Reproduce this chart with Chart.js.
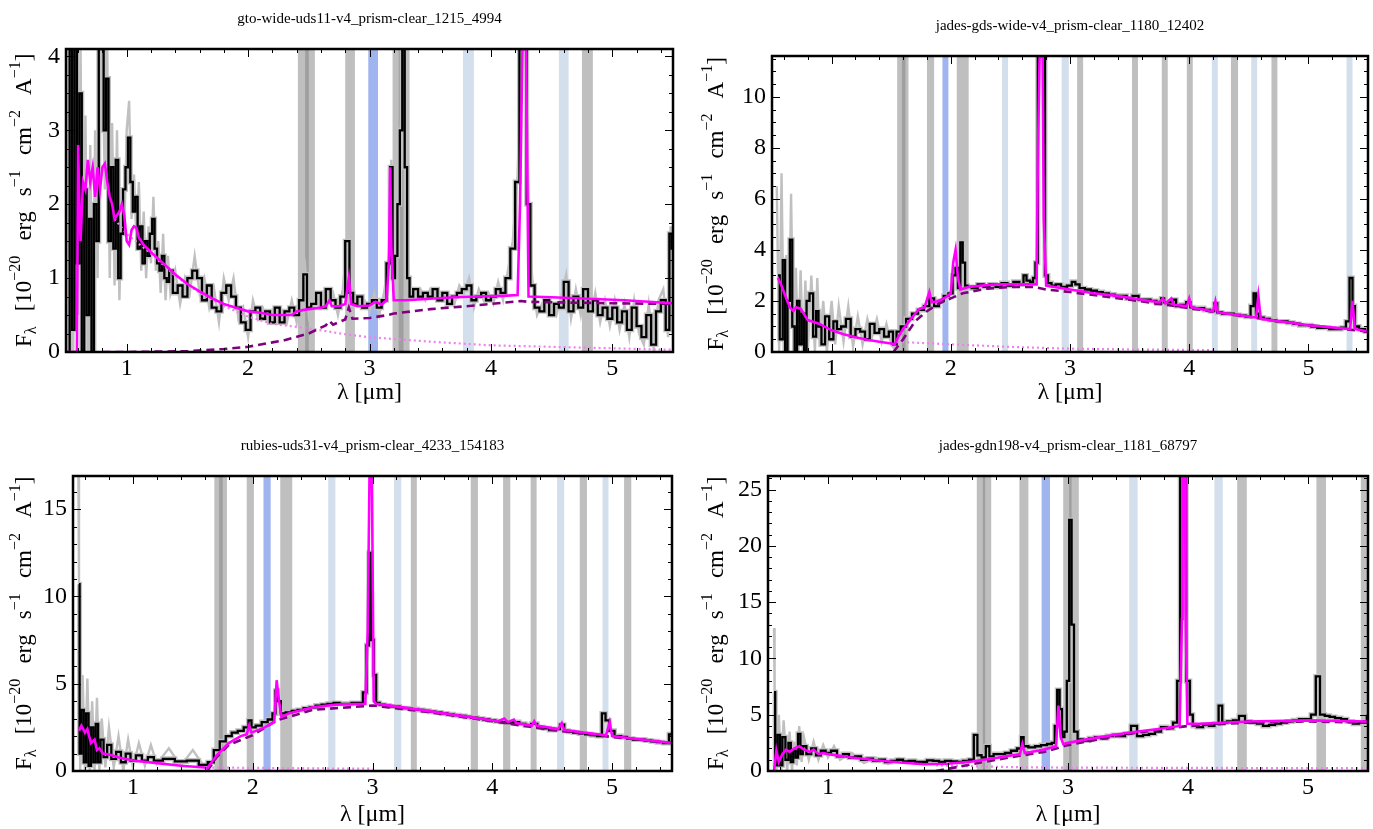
<!DOCTYPE html>
<html>
<head>
<meta charset="utf-8">
<script src="https://cdn.jsdelivr.net/npm/chart.js@4.4.1/dist/chart.umd.min.js"></script>
<style>
  body { margin: 0; background: #fff; }
  #wrap { position: relative; width: 1373px; height: 829px; }
  canvas { position: absolute; }
</style>
</head>
<body>
<div id="wrap">
  <canvas id="c1" width="686" height="414" style="left:0px;top:0px"></canvas>
  <canvas id="c2" width="687" height="414" style="left:686px;top:0px"></canvas>
  <canvas id="c3" width="686" height="415" style="left:0px;top:414px"></canvas>
  <canvas id="c4" width="687" height="415" style="left:686px;top:414px"></canvas>
</div>
<script>
// shared axis values
const xTicks = [1, 2, 3, 4, 5];
const xRange = [0.5, 5.5];

// ---------- panel 1: gto-wide-uds11 ----------
const p1Title = "gto-wide-uds11-v4_prism-clear_1215_4994";
const p1YTicks = [0, 1, 2, 3, 4];
const p1YMax = 4.1;
const p1Bands = [[2.41, 2.50, "g"], [2.47, 2.55, "g"], [2.80, 2.88, "g"], [2.99, 3.07, "b"], [3.19, 3.28, "g"], [3.24, 3.33, "g"], [3.77, 3.86, "l"], [4.56, 4.64, "l"], [4.75, 4.84, "g"]];
const p1Black = [[0.52,0],[0.54,4.1],[0.56,0.3],[0.58,4.1],[0.60,1.2],[0.62,3.5],[0.64,0],[0.66,2.2],[0.68,0.5],[0.70,1.8],[0.72,0],[0.74,2.0],[0.76,1.5],[0.78,4.1],[0.80,4.1],[0.82,3.0],[0.84,3.7],[0.86,1.5],[0.88,2.5],[0.90,1.4],[0.92,2.6],[0.94,1.0],[0.96,1.6],[0.98,2.2],[1.00,2.5],[1.02,2.9],[1.04,2.3],[1.06,1.9],[1.08,2.1],[1.10,1.4],[1.12,1.7],[1.14,1.2],[1.16,1.5],[1.18,1.3],[1.20,1.6],[1.22,1.8],[1.24,1.4],[1.26,1.2],[1.28,1.1],[1.30,1.3],[1.32,1.0],[1.34,0.95],[1.36,1.1],[1.40,0.8],[1.44,0.9],[1.48,0.75],[1.52,1.0],[1.56,1.1],[1.60,1.0],[1.64,0.7],[1.68,0.9],[1.72,0.6],[1.76,0.55],[1.80,0.8],[1.84,0.9],[1.88,0.75],[1.92,0.6],[1.96,0.4],[2.00,0.3],[2.04,0.55],[2.08,0.6],[2.12,0.45],[2.16,0.55],[2.20,0.4],[2.24,0.6],[2.28,0.4],[2.32,0.55],[2.36,0.6],[2.40,0.5],[2.44,0.7],[2.47,1.05],[2.50,0.6],[2.54,0.65],[2.58,0.8],[2.62,0.6],[2.66,0.85],[2.70,0.7],[2.74,0.6],[2.78,0.75],[2.82,1.5],[2.85,0.8],[2.88,0.65],[2.92,0.75],[2.96,0.6],[3.00,0.65],[3.04,0.7],[3.08,0.6],[3.12,0.7],[3.16,1.2],[3.18,2.5],[3.20,1.0],[3.22,1.3],[3.24,2.0],[3.26,3.0],[3.28,4.1],[3.30,2.5],[3.32,1.0],[3.34,0.75],[3.38,0.85],[3.42,0.75],[3.46,0.8],[3.50,0.75],[3.54,0.85],[3.58,0.7],[3.62,0.8],[3.66,0.65],[3.70,0.75],[3.74,0.8],[3.78,0.85],[3.82,0.9],[3.86,0.7],[3.90,0.75],[3.94,0.8],[3.98,0.7],[4.02,0.75],[4.06,0.85],[4.10,0.8],[4.14,1.0],[4.18,1.4],[4.22,2.3],[4.25,4.1],[4.28,4.1],[4.31,2.0],[4.34,0.9],[4.38,0.6],[4.42,0.55],[4.46,0.7],[4.50,0.5],[4.54,0.65],[4.58,0.6],[4.62,0.95],[4.66,0.55],[4.70,0.75],[4.74,0.6],[4.78,0.85],[4.82,0.55],[4.86,0.7],[4.90,0.5],[4.94,0.6],[4.98,0.45],[5.02,0.6],[5.06,0.4],[5.10,0.55],[5.14,0.3],[5.18,0.6],[5.22,0.35],[5.26,0.2],[5.30,0.5],[5.34,0.1],[5.38,0.55],[5.42,0.7],[5.46,0.3],[5.48,1.6],[5.50,1.4]];
const p1Gray = [[0.52,0],[0.54,4.1],[0.56,0],[0.58,4.1],[0.60,0.5],[0.62,4.1],[0.64,0],[0.66,3.2],[0.68,0],[0.70,2.8],[0.72,0],[0.74,3.0],[0.76,1.0],[0.78,4.1],[0.80,4.1],[0.82,2.2],[0.84,4.1],[0.86,1.0],[0.88,3.1],[0.90,0.9],[0.92,3.0],[0.94,0.7],[0.96,2.0],[0.98,1.6],[1.00,3.0],[1.02,3.4],[1.04,1.8],[1.06,2.4],[1.08,1.5],[1.10,2.3],[1.12,1.1],[1.14,1.9],[1.16,1.0],[1.18,1.7],[1.20,1.2],[1.22,2.1],[1.24,1.1],[1.26,1.5],[1.28,0.8],[1.30,1.6],[1.32,0.7],[1.34,1.3],[1.36,0.8],[1.40,1.1],[1.44,0.65],[1.48,1.0],[1.52,0.8],[1.56,1.3],[1.60,0.8],[1.64,1.0],[1.68,0.6],[1.72,0.85],[1.76,0.4],[1.80,1.0],[1.84,0.7],[1.88,1.0],[1.92,0.45],[1.96,0.6],[2.00,0.2],[2.04,0.7],[2.08,0.45],[2.12,0.6],[2.16,0.4],[2.20,0.55],[2.24,0.45],[2.28,0.55],[2.32,0.4],[2.36,0.7],[2.40,0.4],[2.44,0.85],[2.47,1.15],[2.50,0.5],[2.54,0.8],[2.58,0.65],[2.62,0.75],[2.66,0.7],[2.70,0.8],[2.74,0.5],[2.78,0.85],[2.82,1.6],[2.85,0.7],[2.88,0.75],[2.92,0.65],[2.96,0.7],[3.00,0.55],[3.04,0.8],[3.08,0.5],[3.12,0.8],[3.16,1.3],[3.18,2.6],[3.20,0.9],[3.22,1.4],[3.24,2.1],[3.26,3.1],[3.28,4.1],[3.30,2.6],[3.32,0.9],[3.34,0.85],[3.38,0.75],[3.42,0.85],[3.46,0.7],[3.50,0.85],[3.54,0.75],[3.58,0.8],[3.62,0.7],[3.66,0.75],[3.70,0.65],[3.74,0.9],[3.78,0.8],[3.82,1.0],[3.86,0.6],[3.90,0.85],[3.94,0.7],[3.98,0.8],[4.02,0.65],[4.06,0.95],[4.10,0.7],[4.14,1.1],[4.18,1.5],[4.22,2.4],[4.25,4.1],[4.28,4.1],[4.31,2.1],[4.34,1.0],[4.38,0.5],[4.42,0.65],[4.46,0.6],[4.50,0.65],[4.54,0.5],[4.58,0.75],[4.62,1.05],[4.66,0.45],[4.70,0.85],[4.74,0.5],[4.78,0.95],[4.82,0.45],[4.86,0.8],[4.90,0.4],[4.94,0.7],[4.98,0.35],[5.02,0.7],[5.06,0.3],[5.10,0.65],[5.14,0.2],[5.18,0.7],[5.22,0.25],[5.26,0.1],[5.30,0.65],[5.34,0.05],[5.38,0.7],[5.42,0.85],[5.46,0.2],[5.48,1.7],[5.50,1.5]];
const p1Model = [[0.50,0],[0.59,0],[0.60,2.8],[0.61,2.0],[0.62,1.5],[0.64,2.3],[0.66,2.2],[0.68,2.6],[0.70,2.3],[0.72,2.5],[0.74,2.1],[0.76,2.5],[0.78,2.2],[0.80,2.5],[0.82,2.55],[0.84,2.3],[0.86,2.1],[0.88,2.0],[0.90,1.8],[0.92,1.85],[0.94,1.9],[0.96,2.0],[0.98,1.85],[1.00,1.5],[1.02,1.45],[1.04,1.65],[1.06,1.7],[1.08,1.68],[1.10,1.55],[1.14,1.45],[1.20,1.35],[1.30,1.2],[1.40,1.05],[1.50,0.92],[1.60,0.82],[1.70,0.73],[1.80,0.65],[1.90,0.6],[2.00,0.55],[2.10,0.53],[2.20,0.5],[2.30,0.5],[2.36,0.5],[2.40,0.55],[2.46,0.57],[2.50,0.58],[2.60,0.6],[2.64,0.62],[2.67,0.7],[2.69,0.62],[2.75,0.62],[2.80,0.65],[2.83,1.0],[2.85,0.65],[2.90,0.62],[3.00,0.63],[3.05,0.68],[3.10,0.64],[3.14,0.7],[3.16,1.2],[3.17,2.5],[3.18,1.4],[3.20,0.7],[3.30,0.7],[3.50,0.72],[3.70,0.74],[3.90,0.75],[4.10,0.76],[4.22,0.77],[4.24,2.0],[4.26,4.1],[4.29,4.1],[4.31,0.75],[4.50,0.74],[4.80,0.72],[5.10,0.70],[5.50,0.66]];
const p1Dashed = [[0.80,0],[1.00,0],[1.50,0.01],[1.80,0.04],[2.00,0.07],[2.20,0.13],[2.30,0.16],[2.50,0.25],[2.60,0.33],[2.64,0.36],[2.67,0.42],[2.70,0.37],[2.80,0.44],[2.83,0.6],[2.86,0.45],[3.00,0.46],[3.15,0.5],[3.20,0.52],[3.50,0.58],[3.80,0.62],[4.00,0.65],[4.25,0.69],[4.30,0.68],[4.60,0.67],[5.00,0.66],[5.50,0.65]];
const p1Dotted = [[0.90,1.8],[1.00,1.6],[1.20,1.33],[1.40,1.03],[1.60,0.8],[1.80,0.62],[2.00,0.48],[2.20,0.38],[2.40,0.34],[2.50,0.32],[2.80,0.24],[3.00,0.2],[3.50,0.14],[4.00,0.09],[4.50,0.07],[5.00,0.05],[5.50,0.03]];

// ---------- panel 2: jades-gds-wide ----------
const p2Title = "jades-gds-wide-v4_prism-clear_1180_12402";
const p2YTicks = [0, 2, 4, 6, 8, 10];
const p2YMax = 11.6;
const p2Bands = [[1.55, 1.62, "g"], [1.59, 1.645, "g"], [1.80, 1.86, "g"], [1.93, 1.98, "b"], [2.05, 2.15, "g"], [2.43, 2.48, "l"], [2.93, 2.99, "l"], [3.06, 3.11, "g"], [3.52, 3.57, "g"], [3.77, 3.82, "g"], [3.98, 4.03, "g"], [4.19, 4.24, "l"], [4.35, 4.41, "g"], [4.52, 4.57, "l"], [4.69, 4.74, "g"], [5.32, 5.37, "l"]];
const p2Black = [[0.55,3.0],[0.58,0.5],[0.60,3.6],[0.62,0],[0.64,2.0],[0.66,4.4],[0.68,1.0],[0.70,0],[0.72,2.0],[0.74,0.3],[0.76,1.5],[0.78,0],[0.80,2.0],[0.83,2.3],[0.86,0.6],[0.88,1.6],[0.90,1.0],[0.93,0.3],[0.96,1.4],[1.00,0.5],[1.03,1.2],[1.06,0.9],[1.10,1.0],[1.14,1.3],[1.18,0.6],[1.22,0.9],[1.26,0.8],[1.30,0.5],[1.34,1.1],[1.38,0.75],[1.42,0.9],[1.46,0.6],[1.50,0.8],[1.53,0.3],[1.56,0.8],[1.60,1.0],[1.65,1.3],[1.70,1.5],[1.75,1.65],[1.80,1.8],[1.84,2.1],[1.88,1.8],[1.92,2.0],[1.96,2.2],[2.00,2.3],[2.03,3.0],[2.05,3.3],[2.07,2.5],[2.09,4.3],[2.11,3.5],[2.13,2.6],[2.15,2.55],[2.20,2.5],[2.25,2.65],[2.30,2.55],[2.35,2.65],[2.40,2.55],[2.45,2.7],[2.50,2.6],[2.55,2.75],[2.60,2.65],[2.62,3.0],[2.65,2.8],[2.68,2.75],[2.70,2.9],[2.72,3.5],[2.74,11.6],[2.78,11.6],[2.80,3.0],[2.83,2.7],[2.86,2.6],[2.90,2.65],[2.95,2.55],[3.00,2.6],[3.03,2.75],[3.06,2.65],[3.10,2.5],[3.15,2.45],[3.20,2.4],[3.25,2.35],[3.30,2.3],[3.35,2.25],[3.40,2.2],[3.45,2.2],[3.50,2.1],[3.55,2.2],[3.60,2.05],[3.65,2.05],[3.70,2.0],[3.75,1.9],[3.78,2.1],[3.80,1.95],[3.85,1.95],[3.88,2.05],[3.90,1.8],[3.95,1.85],[4.00,1.95],[4.02,1.75],[4.05,1.7],[4.10,1.72],[4.15,1.65],[4.20,1.6],[4.22,1.9],[4.25,1.55],[4.30,1.5],[4.35,1.5],[4.40,1.45],[4.45,1.42],[4.50,1.38],[4.53,1.8],[4.55,2.3],[4.57,1.5],[4.60,1.35],[4.65,1.3],[4.70,1.25],[4.75,1.2],[4.80,1.2],[4.85,1.15],[4.90,1.1],[4.95,1.05],[5.00,1.05],[5.05,1.0],[5.10,0.95],[5.15,0.95],[5.20,0.9],[5.25,0.9],[5.30,0.95],[5.33,1.2],[5.36,2.9],[5.38,1.8],[5.40,1.0],[5.45,0.9],[5.50,0.8]];
const p2Gray = [[0.54,6.5],[0.56,0],[0.58,7.0],[0.60,0],[0.62,3.8],[0.64,0],[0.66,6.2],[0.68,0],[0.70,3.3],[0.72,0],[0.74,3.2],[0.76,0],[0.78,2.8],[0.80,0],[0.83,3.0],[0.86,0],[0.88,2.9],[0.90,0.2],[0.93,2.0],[0.96,0],[1.00,2.0],[1.03,0.3],[1.06,1.8],[1.10,0.4],[1.14,1.8],[1.18,0.2],[1.22,1.4],[1.26,0.3],[1.30,1.3],[1.34,0.6],[1.38,1.3],[1.42,0.4],[1.46,1.1],[1.50,0.3],[1.53,0.1],[1.56,0.7]];
const p2Model = [[0.55,2.9],[0.58,2.6],[0.62,2.1],[0.65,1.75],[0.68,1.6],[0.70,1.75],[0.74,1.7],[0.80,1.25],[0.90,1.1],[1.00,0.85],[1.10,0.7],[1.20,0.58],[1.30,0.48],[1.40,0.4],[1.50,0.33],[1.53,0.3],[1.56,0.6],[1.60,0.9],[1.65,1.2],[1.70,1.5],[1.74,1.7],[1.78,1.75],[1.82,2.35],[1.84,1.95],[1.90,2.0],[1.96,2.15],[2.00,2.3],[2.02,3.5],[2.04,4.0],[2.06,2.9],[2.08,2.45],[2.15,2.55],[2.25,2.6],[2.40,2.65],[2.60,2.65],[2.72,2.65],[2.73,7.5],[2.745,11.6],[2.77,11.6],[2.78,5.2],[2.80,2.6],[3.00,2.45],[3.20,2.3],[3.40,2.2],[3.60,2.05],[3.75,1.95],[3.78,2.1],[3.80,1.9],[3.85,2.1],[3.87,1.85],[3.98,1.8],[4.00,2.1],[4.02,1.75],[4.20,1.6],[4.22,2.0],[4.24,1.55],[4.40,1.45],[4.56,1.35],[4.58,2.2],[4.60,1.3],[5.00,1.05],[5.35,0.9],[5.37,2.0],[5.39,0.9],[5.50,0.8]];
const p2Dashed = [[1.52,0],[1.60,0.5],[1.70,1.2],[1.80,1.6],[1.90,1.9],[2.00,2.1],[2.10,2.3],[2.30,2.48],[2.50,2.55],[2.70,2.55],[2.80,2.45],[3.00,2.35],[3.50,2.05],[4.00,1.72],[4.50,1.38],[5.00,1.05],[5.50,0.8]];
const p2Dotted = [[1.55,0.4],[2.00,0.3],[2.50,0.2],[3.00,0.13],[3.50,0.1],[4.20,0.07]];

// ---------- panel 3: rubies-uds31 ----------
const p3Title = "rubies-uds31-v4_prism-clear_4233_154183";
const p3YTicks = [0, 5, 10, 15];
const p3YMax = 16.9;
const p3Bands = [[1.68, 1.75, "g"], [1.72, 1.785, "g"], [1.95, 2.01, "g"], [2.09, 2.15, "b"], [2.23, 2.33, "g"], [2.63, 2.69, "l"], [3.18, 3.24, "l"], [3.32, 3.37, "g"], [3.82, 3.88, "g"], [4.09, 4.15, "g"], [4.32, 4.37, "g"], [4.54, 4.60, "l"], [4.73, 4.79, "g"], [4.92, 4.97, "l"], [5.10, 5.16, "g"]];
const p3Black = [[0.55,10.7],[0.56,1.0],[0.58,3.5],[0.60,0.5],[0.62,3.3],[0.64,0.3],[0.66,2.5],[0.68,0.5],[0.70,2.7],[0.72,0.5],[0.74,1.8],[0.77,0.8],[0.80,1.5],[0.84,0.7],[0.88,1.1],[0.92,0.5],[0.96,1.0],[1.00,0.6],[1.05,0.9],[1.10,0.6],[1.15,0.8],[1.20,0.6],[1.30,0.7],[1.40,0.55],[1.50,0.6],[1.60,0.35],[1.65,0.5],[1.70,1.2],[1.75,1.7],[1.80,2.0],[1.85,2.2],[1.90,2.3],[1.95,2.5],[1.98,2.9],[2.00,2.5],[2.05,2.6],[2.10,2.8],[2.15,2.95],[2.18,3.3],[2.20,4.6],[2.22,4.0],[2.25,3.3],[2.30,3.35],[2.35,3.45],[2.40,3.5],[2.45,3.6],[2.50,3.65],[2.55,3.75],[2.60,3.8],[2.65,3.85],[2.70,3.9],[2.75,3.85],[2.80,3.85],[2.85,3.9],[2.90,3.9],[2.94,4.5],[2.96,7.2],[2.98,12.5],[3.00,7.5],[3.02,5.5],[3.04,3.9],[3.08,3.8],[3.12,3.75],[3.16,3.7],[3.20,3.7],[3.25,3.6],[3.30,3.6],[3.35,3.55],[3.40,3.5],[3.45,3.45],[3.50,3.4],[3.55,3.35],[3.60,3.3],[3.65,3.25],[3.70,3.2],[3.75,3.15],[3.80,3.1],[3.85,3.05],[3.90,3.0],[3.95,2.95],[4.00,2.9],[4.05,2.85],[4.10,2.8],[4.15,2.75],[4.20,2.8],[4.25,2.7],[4.30,2.6],[4.35,2.7],[4.40,2.5],[4.45,2.45],[4.50,2.35],[4.55,2.4],[4.58,2.65],[4.62,2.3],[4.65,2.25],[4.70,2.2],[4.75,2.15],[4.80,2.1],[4.85,2.05],[4.90,2.0],[4.93,3.3],[4.96,2.9],[4.99,2.3],[5.05,2.0],[5.10,1.95],[5.15,1.85],[5.20,1.8],[5.25,1.8],[5.30,1.75],[5.35,1.7],[5.40,1.65],[5.45,1.6],[5.50,2.1]];
const p3Gray = [[0.545,16.9],[0.55,11.0],[0.56,0],[0.58,5.5],[0.60,0],[0.62,5.3],[0.64,0],[0.66,4.0],[0.68,0],[0.70,4.2],[0.72,0],[0.74,3.0],[0.77,0.2],[0.80,2.5],[0.84,0.2],[0.88,2.0],[0.92,0],[0.96,1.8],[1.00,0.2],[1.05,1.6],[1.10,0.3],[1.15,1.5],[1.20,0.4],[1.30,1.3],[1.40,0.3],[1.50,1.2],[1.60,0.2],[1.65,0.6]];
const p3Model = [[0.55,2.3],[0.57,2.6],[0.60,2.2],[0.62,2.4],[0.65,1.6],[0.68,1.8],[0.70,1.2],[0.72,1.3],[0.75,1.0],[0.80,0.95],[0.90,0.75],[1.00,0.6],[1.20,0.45],[1.40,0.3],[1.60,0.2],[1.62,0.15],[1.70,0.9],[1.80,1.6],[1.90,2.0],[1.95,2.1],[1.97,2.6],[1.99,2.2],[2.10,2.5],[2.18,2.8],[2.20,5.2],[2.22,4.0],[2.24,3.1],[2.30,3.3],[2.50,3.65],[2.70,3.8],[2.94,3.85],[2.96,8.0],[2.975,16.9],[2.995,16.9],[3.01,4.0],[3.03,3.85],[3.20,3.7],[3.50,3.4],[3.80,3.1],[4.05,2.85],[4.10,3.0],[4.13,2.8],[4.18,2.95],[4.20,2.75],[4.33,2.6],[4.35,2.85],[4.37,2.6],[4.55,2.4],[4.58,2.75],[4.60,2.35],[4.95,2.05],[4.98,2.8],[5.00,2.0],[5.50,1.6]];
const p3Dashed = [[1.62,0],[1.70,0.8],[1.80,1.5],[2.00,2.05],[2.20,2.9],[2.50,3.5],[3.00,3.75],[3.50,3.35],[4.00,2.85],[4.50,2.35],[5.00,1.95],[5.50,1.6]];
const p3Dotted = [[1.62,0.2],[2.00,0.18],[2.50,0.15],[3.00,0.13]];

// ---------- panel 4: jades-gdn198 ----------
const p4Title = "jades-gdn198-v4_prism-clear_1181_68797";
const p4YTicks = [0, 5, 10, 15, 20, 25];
const p4YMax = 26.2;
const p4Bands = [[2.24, 2.31, "g"], [2.29, 2.36, "g"], [2.595, 2.67, "g"], [2.78, 2.85, "b"], [2.96, 3.03, "g"], [3.01, 3.09, "g"], [3.51, 3.58, "l"], [4.22, 4.29, "l"], [4.41, 4.49, "g"], [5.07, 5.15, "g"], [5.44, 5.50, "g"]];
const p4Black = [[0.55,7.0],[0.57,0.5],[0.59,3.2],[0.61,0.5],[0.63,3.0],[0.66,1.0],[0.68,2.5],[0.70,0.8],[0.72,1.8],[0.74,1.2],[0.76,3.3],[0.78,1.5],[0.80,2.2],[0.84,1.5],[0.88,2.0],[0.92,1.4],[0.96,1.8],[1.00,1.6],[1.05,1.8],[1.10,1.3],[1.15,1.5],[1.20,1.2],[1.25,1.3],[1.30,1.0],[1.35,1.1],[1.40,0.9],[1.45,1.0],[1.50,0.8],[1.55,0.9],[1.60,1.0],[1.65,0.85],[1.70,0.9],[1.75,0.8],[1.80,0.8],[1.85,0.95],[1.90,0.9],[1.95,0.8],[2.00,0.9],[2.05,0.85],[2.10,0.8],[2.15,0.9],[2.20,1.0],[2.23,3.2],[2.26,1.4],[2.30,1.2],[2.33,2.2],[2.36,1.3],[2.40,1.5],[2.45,1.5],[2.50,1.6],[2.55,1.8],[2.60,2.0],[2.62,3.0],[2.64,2.2],[2.70,2.1],[2.75,2.2],[2.80,2.3],[2.85,2.4],[2.88,2.5],[2.90,4.0],[2.92,7.2],[2.94,5.5],[2.96,3.0],[2.98,3.5],[3.00,8.0],[3.02,22.3],[3.04,13.0],[3.06,3.5],[3.10,2.8],[3.15,2.7],[3.20,2.9],[3.25,3.0],[3.30,2.9],[3.35,3.1],[3.40,3.2],[3.45,3.1],[3.50,3.3],[3.55,4.0],[3.60,3.1],[3.65,3.2],[3.70,3.3],[3.75,3.5],[3.80,3.9],[3.85,3.8],[3.90,4.3],[3.92,8.0],[3.95,26.2],[3.97,26.2],[4.00,8.0],[4.03,5.0],[4.05,4.0],[4.10,3.9],[4.15,4.1],[4.20,4.0],[4.24,4.2],[4.27,5.8],[4.30,4.3],[4.35,4.4],[4.40,4.5],[4.45,4.9],[4.50,4.4],[4.55,4.3],[4.60,4.2],[4.65,4.0],[4.70,4.1],[4.75,4.2],[4.80,4.3],[4.85,4.4],[4.90,4.5],[4.95,4.6],[5.00,4.6],[5.05,5.0],[5.08,8.4],[5.12,5.0],[5.16,4.9],[5.20,4.8],[5.25,4.7],[5.30,4.6],[5.35,4.4],[5.40,4.2],[5.45,4.3],[5.48,4.4],[5.50,4.9]];
const p4Gray = [[0.55,12.7],[0.555,7.2],[0.57,0],[0.59,5.0],[0.61,0],[0.63,4.5],[0.66,0],[0.68,3.5],[0.70,0],[0.72,2.6],[0.74,0.5],[0.76,4.0],[0.78,0.8],[0.80,3.0],[0.84,1.0],[0.88,2.6],[0.92,1.0],[0.96,2.3],[1.00,1.2],[1.05,2.2],[1.10,1.0],[1.20,1.6],[1.30,0.7],[1.40,1.2],[1.50,0.6],[1.60,1.2]];
const p4Model = [[0.55,0],[0.57,1.8],[0.59,0.8],[0.62,1.5],[0.65,1.9],[0.68,1.7],[0.72,2.0],[0.76,2.2],[0.80,1.9],[0.85,1.7],[0.88,1.9],[0.92,1.5],[0.96,1.6],[1.00,1.5],[1.20,1.2],[1.40,0.95],[1.60,0.75],[1.80,0.6],[2.00,0.65],[2.20,0.85],[2.40,1.15],[2.60,1.5],[2.62,2.4],[2.64,1.6],[2.80,1.9],[2.90,2.2],[2.92,5.8],[2.94,3.0],[2.96,2.4],[3.00,2.5],[3.20,2.9],[3.50,3.4],[3.80,3.8],[3.93,4.0],[3.95,13.5],[3.955,26.2],[3.975,26.2],[3.98,14.0],[3.995,4.2],[4.10,4.2],[4.50,4.4],[5.00,4.5],[5.50,4.4]];
const p4Dashed = [[1.90,0],[2.00,0.2],[2.20,0.6],[2.40,1.0],[2.60,1.35],[2.80,1.7],[3.00,2.3],[3.50,3.3],[4.00,4.0],[4.50,4.3],[5.00,4.4],[5.50,4.3]];
const p4Dotted = [[1.90,0.5],[2.50,0.35],[3.00,0.3],[4.00,0.28],[5.00,0.25],[5.50,0.25]];

// ---------- styling ----------
const serif = "'Liberation Serif', 'Times New Roman', serif";
Chart.defaults.font.family = serif;
Chart.defaults.color = "#000";
const tickFont = { family: serif, size: 24, lineHeight: 1 };
const bandColors = { g: "rgba(128,128,128,0.5)", b: "rgba(65,105,225,0.5)", l: "rgba(176,196,222,0.55)" };
const yLabelParts = [["F", 0], ["λ", -1], [" [10", 0], ["−20", 1], [" erg s", 0], ["−1", 1], [" cm", 0], ["−2", 1], [" A", 0], ["−1", 1], ["]", 0]];

// rotated label with sub/superscripts, stretched over the word gaps
function drawRich(ctx, cx, cy, parts, size, target) {
    const small = Math.round(size * 0.68);
    const fontOf = lvl => (lvl === 0 ? size : small) + "px " + serif;
    let total = 0, spaces = 0;
    parts.forEach(([t, lvl]) => {
        ctx.font = fontOf(lvl);
        total += ctx.measureText(t).width;
        spaces += (t.match(/ /g) || []).length;
    });
    const extra = spaces ? Math.max(0, (target - total) / spaces) : 0;
    const full = total + extra * spaces;
    ctx.save();
    ctx.translate(cx, cy);
    ctx.rotate(-Math.PI / 2);
    ctx.textBaseline = "middle";
    ctx.textAlign = "left";
    ctx.fillStyle = "#000";
    let pos = -full / 2;
    parts.forEach(([t, lvl]) => {
        ctx.font = fontOf(lvl);
        const dy = lvl > 0 ? -size * 0.38 : (lvl < 0 ? size * 0.3 : 0);
        for (const ch of t) {
            if (ch === " ") { pos += ctx.measureText(" ").width + extra; continue; }
            ctx.fillText(ch, pos, dy);
            pos += ctx.measureText(ch).width;
        }
    });
    ctx.restore();
}

function tickValues(min, max, step) {
    const out = [];
    const n0 = Math.ceil(min / step - 1e-9), n1 = Math.floor(max / step + 1e-9);
    for (let i = n0; i <= n1; i++) out.push(i * step);
    return out;
}

const decor = {
    id: "decor",
    beforeDatasetsDraw(chart, args, o) {
        const { ctx, chartArea: a, scales: { x } } = chart;
        ctx.save();
        ctx.beginPath();
        ctx.rect(a.left, a.top, a.right - a.left, a.bottom - a.top);
        ctx.clip();
        o.bands.forEach(([lo, hi, kind]) => {
            const x0 = x.getPixelForValue(lo), x1 = x.getPixelForValue(hi);
            ctx.fillStyle = bandColors[kind];
            ctx.fillRect(x0, a.top, x1 - x0, a.bottom - a.top);
        });
        ctx.restore();
    },
    afterDatasetsDraw(chart, args, o) {
        const { ctx, chartArea: a, scales: { x, y } } = chart;
        ctx.save();
        ctx.strokeStyle = "#000";
        ctx.lineWidth = 1;
        ctx.beginPath();
        const xt = (v, len) => {
            const px = Math.round(x.getPixelForValue(v)) + 0.5;
            ctx.moveTo(px, a.bottom); ctx.lineTo(px, a.bottom - len);
            ctx.moveTo(px, a.top); ctx.lineTo(px, a.top + len);
        };
        const yt = (v, len) => {
            const py = Math.round(y.getPixelForValue(v)) + 0.5;
            ctx.moveTo(a.left, py); ctx.lineTo(a.left + len, py);
            ctx.moveTo(a.right, py); ctx.lineTo(a.right - len, py);
        };
        tickValues(x.min, x.max, 0.2).forEach(v => xt(v, 4));
        xTicks.forEach(v => xt(v, 8));
        tickValues(y.min, y.max, o.yMinor).forEach(v => yt(v, 4));
        o.yTicks.forEach(v => yt(v, 8));
        ctx.stroke();
        ctx.lineWidth = 2.5;
        ctx.strokeRect(a.left, a.top, a.right - a.left, a.bottom - a.top);
        ctx.fillStyle = "#000";
        ctx.font = "15px " + serif;
        ctx.textAlign = "center";
        ctx.textBaseline = "middle";
        ctx.fillText(o.title, (a.left + a.right) / 2, a.top - 30);
        ctx.restore();
        drawRich(ctx, o.labelX, (a.top + a.bottom) / 2, yLabelParts, 23, 293);
    }
};

function line(pairs, color, width, dash, stepped) {
    return {
        data: pairs.map(([x, y]) => ({ x, y })),
        borderColor: color,
        borderWidth: width,
        borderDash: dash || [],
        stepped: stepped || false,
        pointRadius: 0,
        fill: false,
        tension: 0
    };
}

function panel(id, p) {
    new Chart(document.getElementById(id), {
        type: "line",
        data: {
            datasets: [
                line(p.model, "#ff00ff", 2.6),
                line(p.dashed, "#800080", 2.6, [8, 5]),
                line(p.dotted, "#ee82ee", 2.2, [2, 3]),
                line(p.black, "#000000", 2.3, null, "middle"),
                line(p.black, "#c0c0c0", 5, null, "middle"),
                line(p.gray, "#c0c0c0", 2.4)
            ]
        },
        options: {
            responsive: false,
            animation: false,
            devicePixelRatio: 1,
            layout: { padding: { left: 0, top: p.padTop, right: p.padRight, bottom: 0 } },
            plugins: {
                legend: { display: false },
                tooltip: { enabled: false },
                decor: { bands: p.bands, title: p.title, yTicks: p.yTicks, yMinor: p.yMinor, labelX: p.labelX }
            },
            scales: {
                x: {
                    type: "linear",
                    min: xRange[0],
                    max: xRange[1],
                    afterBuildTicks: s => { s.ticks = xTicks.map(v => ({ value: v })); },
                    afterFit: s => { s.height = p.xHeight; },
                    grid: { display: false, drawTicks: false },
                    border: { display: false },
                    ticks: { autoSkip: false, maxRotation: 0, padding: 5, color: "#000", font: tickFont },
                    title: { display: true, text: "λ [μm]", color: "#000", font: tickFont, padding: { top: 0, bottom: p.xTitlePad } }
                },
                y: {
                    type: "linear",
                    min: 0,
                    max: p.yMax,
                    afterBuildTicks: s => { s.ticks = p.yTicks.map(v => ({ value: v })); },
                    afterFit: s => { s.width = p.yWidth; },
                    grid: { display: false, drawTicks: false },
                    border: { display: false },
                    ticks: { autoSkip: false, padding: 6, color: "#000", font: tickFont }
                }
            }
        },
        plugins: [decor]
    });
}

panel("c1", { title: p1Title, bands: p1Bands, yTicks: p1YTicks, yMax: p1YMax, yMinor: 0.25, black: p1Black, gray: p1Gray, model: p1Model, dashed: p1Dashed, dotted: p1Dotted, padTop: 49, padRight: 13, yWidth: 66, xHeight: 62, xTitlePad: 9, labelX: 25 });
panel("c2", { title: p2Title, bands: p2Bands, yTicks: p2YTicks, yMax: p2YMax, yMinor: 0.5, black: p2Black, gray: p2Gray, model: p2Model, dashed: p2Dashed, dotted: p2Dotted, padTop: 56, padRight: 5, yWidth: 86, xHeight: 62, xTitlePad: 9, labelX: 31 });
panel("c3", { title: p3Title, bands: p3Bands, yTicks: p3YTicks, yMax: p3YMax, yMinor: 1, black: p3Black, gray: p3Gray, model: p3Model, dashed: p3Dashed, dotted: p3Dotted, padTop: 62, padRight: 14, yWidth: 73, xHeight: 58, xTitlePad: 2, labelX: 25 });
panel("c4", { title: p4Title, bands: p4Bands, yTicks: p4YTicks, yMax: p4YMax, yMinor: 1, black: p4Black, gray: p4Gray, model: p4Model, dashed: p4Dashed, dotted: p4Dotted, padTop: 62, padRight: 5, yWidth: 82, xHeight: 58, xTitlePad: 2, labelX: 31 });
</script>
</body>
</html>
